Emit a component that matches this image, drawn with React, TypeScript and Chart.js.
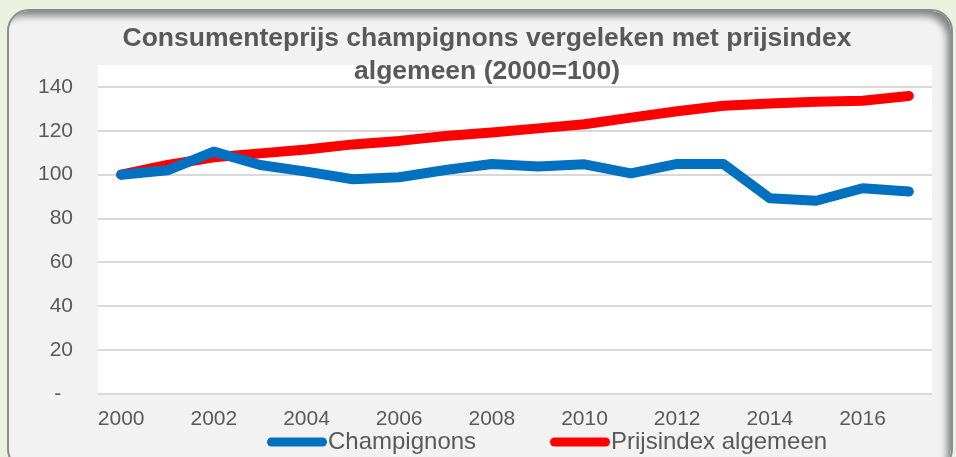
import React, { useEffect, useRef } from "react";
import { Chart, registerables } from "chart.js";

Chart.register(...registerables);

const years = ["2000","2001","2002","2003","2004","2005","2006","2007","2008","2009","2010","2011","2012","2013","2014","2015","2016","2017"];
const champignons = [100, 102, 110.5, 104.4, 101.4, 97.9, 98.8, 102.1, 104.9, 103.7, 104.7, 100.6, 104.9, 104.9, 89.2, 88.1, 93.8, 92.3];
const prijsindex = [100, 104.4, 107.9, 109.7, 111.5, 113.8, 115.4, 117.6, 119.2, 121.1, 123.0, 126.0, 128.9, 131.4, 132.5, 133.3, 133.7, 135.9];
const yTickValues = [0, 20, 40, 60, 80, 100, 120, 140];
const titleLines = ["Consumenteprijs champignons vergeleken met prijsindex", "algemeen (2000=100)"];
const seriesNames = ["Champignons", "Prijsindex algemeen"];
const seriesColors = ["#0070C0", "#FF0000"];

const FONT = "'Liberation Sans', Arial, sans-serif";
const TEXT = "#595959";

const bgPlugin = {
  id: "plotBg",
  beforeDraw(chart: any) {
    const { ctx, chartArea } = chart;
    ctx.save();
    ctx.fillStyle = "#FFFFFF";
    ctx.fillRect(chartArea.left, chartArea.top, chartArea.right - chartArea.left, chartArea.bottom - chartArea.top);
    ctx.restore();
  },
};

const titlePlugin = {
  id: "ovTitle",
  afterDraw(chart: any) {
    const { ctx } = chart;
    ctx.save();
    ctx.fillStyle = TEXT;
    ctx.font = `bold 26.5px ${FONT}`;
    ctx.textAlign = "center";
    ctx.textBaseline = "middle";
    ctx.fillText(titleLines[0], 487, 39);
    ctx.fillText(titleLines[1], 487, 72);
    ctx.restore();
  },
};

const legendPlugin = {
  id: "ovLegend",
  afterDraw(chart: any) {
    const { ctx } = chart;
    const y = 442;
    const starts = [267, 550];
    ctx.save();
    chart.data.datasets.forEach((ds: any, i: number) => {
      const x0 = starts[i];
      ctx.strokeStyle = ds.borderColor;
      ctx.lineWidth = 9;
      ctx.lineCap = "round";
      ctx.beginPath();
      ctx.moveTo(x0 + 4.5, y);
      ctx.lineTo(x0 + 55.5, y);
      ctx.stroke();
      ctx.fillStyle = TEXT;
      ctx.font = `24px ${FONT}`;
      ctx.textAlign = "left";
      ctx.textBaseline = "middle";
      ctx.fillText(ds.label, x0 + 61, y);
    });
    ctx.restore();
  },
};

export default function App() {
  const ref = useRef<HTMLCanvasElement>(null);
  useEffect(() => {
    if (!ref.current) return;
    const chart = new Chart(ref.current, {
      type: "line",
      data: {
        labels: years,
        datasets: [
          {
            label: seriesNames[0],
            data: champignons,
            borderColor: seriesColors[0],
            backgroundColor: seriesColors[0],
            borderWidth: 10,
            pointRadius: 0,
            tension: 0,
            borderCapStyle: "round",
            borderJoinStyle: "round",
          },
          {
            label: seriesNames[1],
            data: prijsindex,
            borderColor: seriesColors[1],
            backgroundColor: seriesColors[1],
            borderWidth: 10,
            pointRadius: 0,
            tension: 0,
            borderCapStyle: "round",
            borderJoinStyle: "round",
          },
        ],
      },
      options: {
        animation: false,
        responsive: false,
        layout: { padding: { left: 0, right: 24, top: 65, bottom: 0 } },
        plugins: {
          legend: { display: false },
          title: { display: false },
          tooltip: { enabled: false },
        },
        scales: {
          x: {
            offset: true,
            grid: { display: false, drawTicks: false },
            border: { display: false },
            afterFit(scale: any) { scale.height = 63; },
            ticks: {
              autoSkip: false,
              maxRotation: 0,
              padding: 13,
              color: TEXT,
              font: { family: FONT, size: 21 },
              callback: (_v: any, i: number) => (i % 2 === 0 ? years[i] : ""),
            },
          },
          y: {
            min: 0,
            max: 150,
            afterBuildTicks(axis: any) {
              axis.ticks = yTickValues.map((v) => ({ value: v }));
            },
            afterFit(scale: any) { scale.width = 98; },
            grid: { color: "#D9D9D9", lineWidth: 2, drawTicks: false },
            border: { display: false },
            ticks: {
              padding: 25,
              color: TEXT,
              font: { family: FONT, size: 21 },
              callback: (v: any) => (v === 0 ? "-  " : String(v)),
            },
          },
        },
      },
      plugins: [bgPlugin, titlePlugin, legendPlugin],
    });
    return () => chart.destroy();
  }, []);

  return (
    <div style={{ position: "fixed", left: 0, top: 0, width: 956, height: 457, background: "#EBF1DE", overflow: "hidden" }}>
      <div
        style={{
          position: "absolute",
          left: 7,
          top: 9,
          width: 946,
          height: 462,
          boxSizing: "border-box",
          borderRadius: 22,
          background: "#F2F2F2",
          border: "2px solid #8C8C8C",
          boxShadow: "inset -7px 8px 7px -3px rgba(0,0,0,0.45)",
        }}
      />
      <canvas ref={ref} width={956} height={457} style={{ position: "absolute", left: 0, top: 0, width: 956, height: 457 }} />
    </div>
  );
}
